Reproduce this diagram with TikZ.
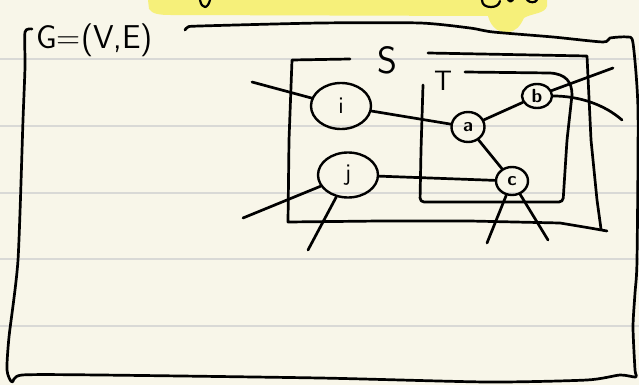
\documentclass[tikz,border=0pt]{standalone}
\usetikzlibrary{shapes.geometric}
\definecolor{paper}{HTML}{F8F6E9}
\definecolor{ruling}{HTML}{D9D9D6}
\definecolor{hilite}{HTML}{F6F07A}
\tikzset{
  ink/.style={line width=2.7pt, line cap=round, line join=round, draw=black},
  fineink/.style={line width=2.2pt, line cap=round, line join=round, draw=black},
  vert/.style={draw=black, line width=2.4pt, ellipse, inner sep=0pt, font=\sffamily\fontsize{24}{24}\selectfont},
  smallvert/.style={vert, font=\sffamily\bfseries\fontsize{19}{19}\selectfont},
  ruleline/.style={draw=ruling, line width=1.3pt},
  lab/.style={inner sep=0pt, font=\sffamily}
}
\begin{document}
\begin{tikzpicture}[x=1pt,y=-1pt]
\useasboundingbox (0,0) rectangle (639,385);
\fill[paper] (0,0) rectangle (639,385);
% ruled lines
\foreach \yy in {59,126,193,259,326} \draw[ruleline] (0,\yy) -- (639,\yy);
% yellow highlight
\fill[hilite] (148,0) -- (149,9) .. controls (152,14) and (160,15) .. (170,15)
  -- (488,16) .. controls (490,24) and (496,33) .. (507,32)
  .. controls (516,32) and (520,26) .. (524,18)
  .. controls (532,13) and (545,14) .. (547,6) -- (547,0) -- cycle;
% ink fragments at the top edge
\draw[fineink] (200,0) .. controls (201,5) and (203,7) .. (205,7) .. controls (207,7) and (209,4) .. (210,0);
\draw[fineink] (482,0) .. controls (482,5) and (486,7) .. (491,7) .. controls (496,7) and (499,5) .. (500,1);
\draw[fineink] (508,0) .. controls (509,2) and (512,2) .. (513,0);
\draw[fineink] (527,0) .. controls (530,3) and (535,3) .. (537,0);
% outer frame
\draw[ink] plot[smooth, tension=0.4] coordinates {(32,29) (25,32) (25,67) (23,120) (18,260) (9,337) (7,370) (12,382) (22,375) (100,375) (320,378) (487,382) (587,380) (620,375) (636,377) (635,370) (633,327) (635,293) (637,260) (638,110) (633,43) (627,37) (610,38) (603,42) (553,37) (493,32) (470,28) (420,23) (320,23) (200,26) (188,27) (185,30)};
% title
\node[lab, anchor=base west, font=\sffamily\fontsize{33}{33}\selectfont] (title) at (36,49) {G=(V,E)};
% S box
\draw[ink] plot[sharp plot] coordinates {(350,59) (292,60) (289,140) (288,222) (380,221) (470,221) (560,223) (590,228) (607,231)};
\draw[ink] plot[sharp plot] coordinates {(428,53) (587,56) (591,140) (597,200) (601,229)};
\node[lab, font=\sffamily\fontsize{38}{38}\selectfont] (slab) at (387,60) {S};
% T box
\draw[ink, rounded corners=4pt] (423,85) -- (421,150) -- (420,202) -- (500,202) -- (563,202) -- (567,140) -- (572,95);
\draw[ink] (572,95) .. controls (572,82) and (566,74) .. (550,73) -- (465,72);
\node[lab, font=\sffamily\fontsize{28}{28}\selectfont] (tlab) at (443,81) {T};
% vertices
\node[vert, minimum width=60pt, minimum height=46pt] (i) at (341,106) {i};
\node[vert, minimum width=60pt, minimum height=45pt] (j) at (348,175) {j};
\node[smallvert, minimum width=33pt, minimum height=30pt] (a) at (468,127) {a};
\node[smallvert, minimum width=30pt, minimum height=24pt] (b) at (537,96) {b};
\node[smallvert, minimum width=32pt, minimum height=28pt] (c) at (512,181) {c};
% free ends
\coordinate (ie) at (252,82);
\coordinate (je1) at (243,218);
\coordinate (je2) at (308,250);
\coordinate (be1) at (613,68);
\coordinate (be2) at (622,120);
\coordinate (ce1) at (487,243);
\coordinate (ce2) at (548,240);
% edges
\draw[ink] (ie) -- (i);
\draw[ink] (i) -- (a);
\draw[ink] (j) -- (c);
\draw[ink] (j) -- (je1);
\draw[ink] (j) -- (je2);
\draw[ink] (a) -- (b);
\draw[ink] (a) -- (c);
\draw[ink] (b) -- (be1);
\draw[ink] (b.east) .. controls (580,96) and (605,105) .. (be2);
\draw[ink] (c) -- (ce1);
\draw[ink] (c) -- (ce2);
\end{tikzpicture}
\end{document}
